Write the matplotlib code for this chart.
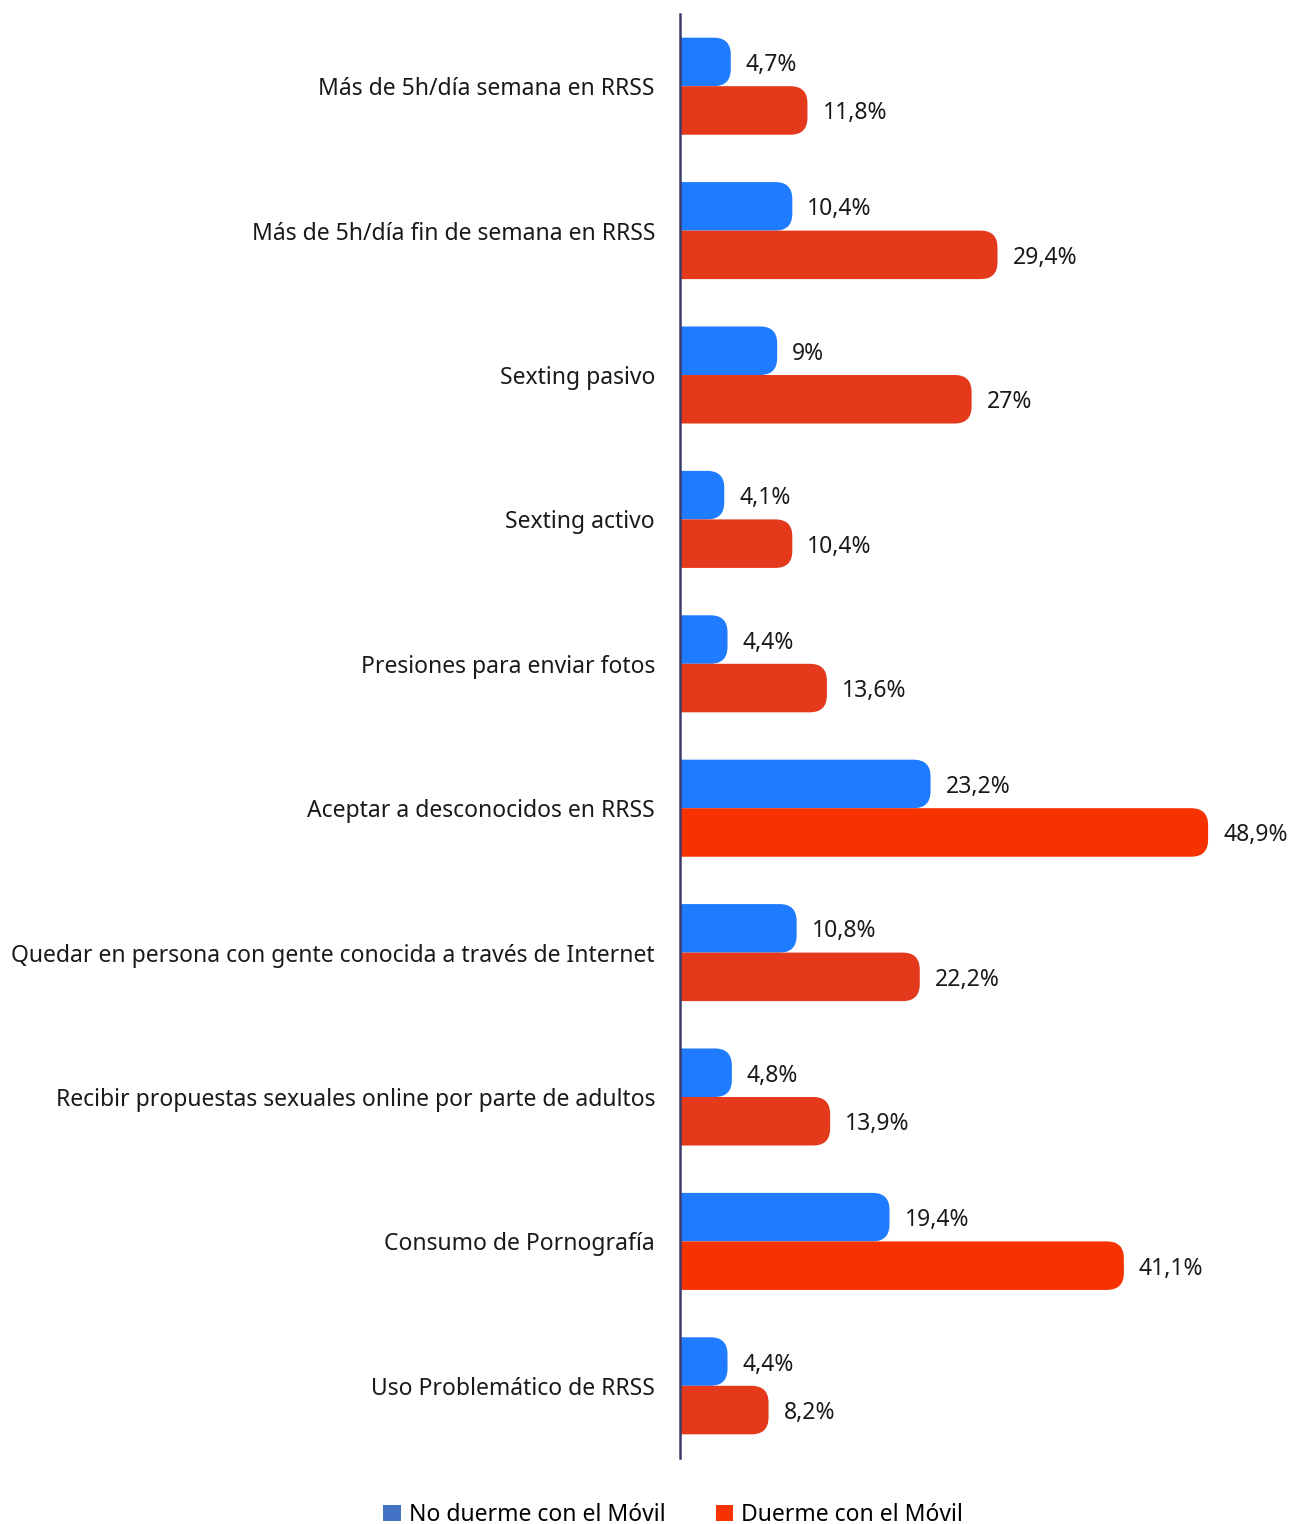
import matplotlib
matplotlib.use("Agg")
import matplotlib.pyplot as plt
from matplotlib.patches import FancyBboxPatch, Patch
import numpy as np

categories = [
    "Más de 5h/día semana en RRSS",
    "Más de 5h/día fin de semana en RRSS",
    "Sexting pasivo",
    "Sexting activo",
    "Presiones para enviar fotos",
    "Aceptar a desconocidos en RRSS",
    "Quedar en persona con gente conocida a través de Internet",
    "Recibir propuestas sexuales online por parte de adultos",
    "Consumo de Pornografía",
    "Uso Problemático de RRSS",
]
no_duerme = [4.7, 10.4, 9, 4.1, 4.4, 23.2, 10.8, 4.8, 19.4, 4.4]
duerme = [11.8, 29.4, 27, 10.4, 13.6, 48.9, 22.2, 13.9, 41.1, 8.2]
no_duerme_labels = ["4,7%", "10,4%", "9%", "4,1%", "4,4%", "23,2%", "10,8%", "4,8%", "19,4%", "4,4%"]
duerme_labels = ["11,8%", "29,4%", "27%", "10,4%", "13,6%", "48,9%", "22,2%", "13,9%", "41,1%", "8,2%"]
series_names = ["No duerme con el Móvil", "Duerme con el Móvil"]

blue = "#1F7BFF"
red_colors = ["#E5391C"] * 10
red_colors[5] = "#F53200"
red_colors[8] = "#F53200"
legend_colors = ["#4472C4", "#F53200"]

plt.rcParams["font.family"] = ["Noto Sans", "DejaVu Sans"]

W, H = 1293, 1524
fig = plt.figure(figsize=(W / 100, H / 100), dpi=100)
ax_left, ax_right = 680 / W, 1293 / W
ax_top, ax_bot = 1 - 14 / H, 1 - 1458 / H
ax = fig.add_axes([ax_left, ax_bot, ax_right - ax_left, ax_top - ax_bot])

n = len(categories)
px_per_unit = 10.8
xmax = (1293 - 680) / px_per_unit
ax.set_xlim(0, xmax)
ax.set_ylim(n - 0.5, -0.5)
bh = 0.336
y_px_per_unit = (1458 - 14) / n

r_px = 17
r_x = r_px / px_per_unit
aspect = (r_px / y_px_per_unit) / r_x

fs = 16.5
dy = 3 / y_px_per_unit
y = np.arange(n)
for i in range(n):
    for val, yy, col in [(no_duerme[i], y[i] - bh, blue), (duerme[i], y[i], red_colors[i])]:
        p = FancyBboxPatch((-r_x, yy), val + r_x, bh,
                           boxstyle=f"round,pad=0,rounding_size={r_x}",
                           mutation_aspect=aspect, facecolor=col, edgecolor="none",
                           clip_on=True)
        ax.add_patch(p)
    ax.text(no_duerme[i] + 15 / px_per_unit, y[i] - bh / 2 + dy, no_duerme_labels[i],
            va="center", ha="left", fontsize=fs, color="#1a1a1a")
    ax.text(duerme[i] + 15 / px_per_unit, y[i] + bh / 2 + dy, duerme_labels[i],
            va="center", ha="left", fontsize=fs, color="#1a1a1a")

ax.set_yticks(y)
ax.set_yticklabels(categories, fontsize=fs, color="#1a1a1a")
ax.tick_params(axis="y", length=0, pad=18)
ax.set_xticks([])
for s in ["top", "right", "bottom"]:
    ax.spines[s].set_visible(False)
ax.spines["left"].set_color("#3B3B6B")
ax.spines["left"].set_linewidth(1.8)

handles = [Patch(facecolor=c, edgecolor="none") for c in legend_colors]
fig.legend(handles, series_names, loc="center", bbox_to_anchor=(673 / W, 1 - 1515 / H),
           ncol=2, frameon=False, fontsize=fs, handlelength=0.75, handleheight=0.75,
           handletextpad=0.35, columnspacing=2.2)

fig.savefig("out.png", dpi=100)
